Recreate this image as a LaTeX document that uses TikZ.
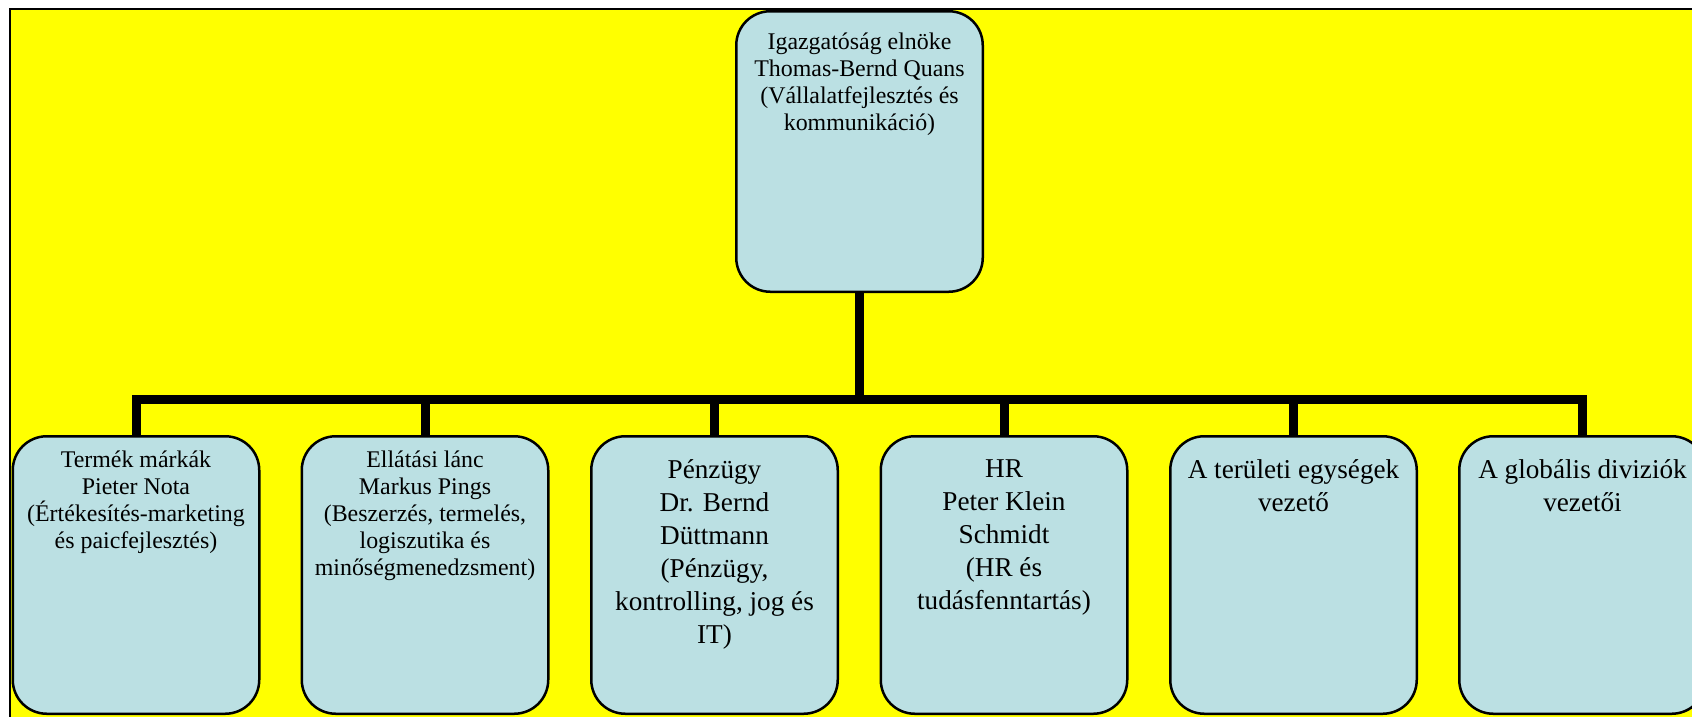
\documentclass[tikz,border=0pt]{standalone}
\usepackage{fontspec}
\setmainfont{Liberation Serif}
\definecolor{boxfill}{RGB}{187,224,227}
\definecolor{panel}{RGB}{255,255,0}
\begin{document}
\begin{tikzpicture}[x=1pt,y=-1pt,
  orgbox/.style={draw=black, line width=2.5pt, fill=boxfill, rounded corners=34pt,
                 minimum width=246.5pt, inner sep=0pt},
  topbox/.style={orgbox, minimum height=280.5pt},
  lowbox/.style={orgbox, minimum height=277.5pt},
  boxtext/.style={anchor=north, align=center, inner sep=0pt, text=black},
  smalltext/.style={boxtext, font=\fontsize{23.9}{26.8}\selectfont},
  largetext/.style={boxtext, font=\fontsize{27.2}{33}\selectfont},
  conn/.style={draw=black, line width=9pt}]

% page area and clipping
\path[use as bounding box] (0,0) rectangle (1692,716);
\clip (0,0) rectangle (1692,716);
\fill[white] (0,0) rectangle (1692,716);

% yellow panel
\draw[line width=2pt, fill=panel] (10,9) rectangle (1730,760);

% box positions (invisible, used as anchors)
\path
  node[topbox, draw=none, fill=none] (top) at (859.5,151.5) {}
  node[lowbox, draw=none, fill=none] (b1) at (136,575) {}
  node[lowbox, draw=none, fill=none] (b2) at (425,575) {}
  node[lowbox, draw=none, fill=none] (b3) at (714.5,575) {}
  node[lowbox, draw=none, fill=none] (b4) at (1004,575) {}
  node[lowbox, draw=none, fill=none] (b5) at (1293.5,575) {}
  node[lowbox, draw=none, fill=none] (b6) at (1582.5,575) {};
\coordinate (bus) at (859.5,399.5);

% connectors
\draw[conn] (top.south) -- (bus);
\draw[conn, line join=miter] (b1.north) -- (b1.north |- bus) -- (b6.north |- bus) -- (b6.north);
\foreach \n in {b2,b3,b4,b5}
  \draw[conn] (\n.north |- bus) -- (\n.north);

% visible boxes
\node[topbox] (topv) at (top) {};
\node[lowbox] (b1v) at (b1) {};
\node[lowbox] (b2v) at (b2) {};
\node[lowbox] (b3v) at (b3) {};
\node[lowbox] (b4v) at (b4) {};
\node[lowbox] (b5v) at (b5) {};
\node[lowbox] (b6v) at (b6) {};

% box texts
\node[smalltext] (topt) at ([yshift=-23pt]top.north)
  {Igazgatóság elnöke\\Thomas-Bernd Quans\\(Vállalatfejlesztés és\\kommunikáció)};
\node[smalltext] (b1t) at ([yshift=-16pt]b1.north)
  {Termék márkák\\Pieter Nota\\(Értékesítés-marketing\\és paicfejlesztés)};
\node[smalltext] (b2t) at ([yshift=-16pt]b2.north)
  {Ellátási lánc\\Markus Pings\\(Beszerzés, termelés,\\logiszutika és\\minőségmenedzsment)};
\node[largetext] (b3t) at ([yshift=-24pt]b3.north)
  {Pénzügy\\Dr. Bernd\\Düttmann\\(Pénzügy,\\kontrolling, jog és\\IT)};
\node[largetext] (b4t) at ([yshift=-24pt]b4.north)
  {HR\\Peter Klein\\Schmidt\\(HR és\\tudásfenntartás)};
\node[largetext] (b5t) at ([yshift=-24pt]b5.north)
  {A területi egységek\\vezető};
\node[largetext] (b6t) at ([yshift=-24pt]b6.north)
  {A globális diviziók\\vezetői};
\end{tikzpicture}
\end{document}
